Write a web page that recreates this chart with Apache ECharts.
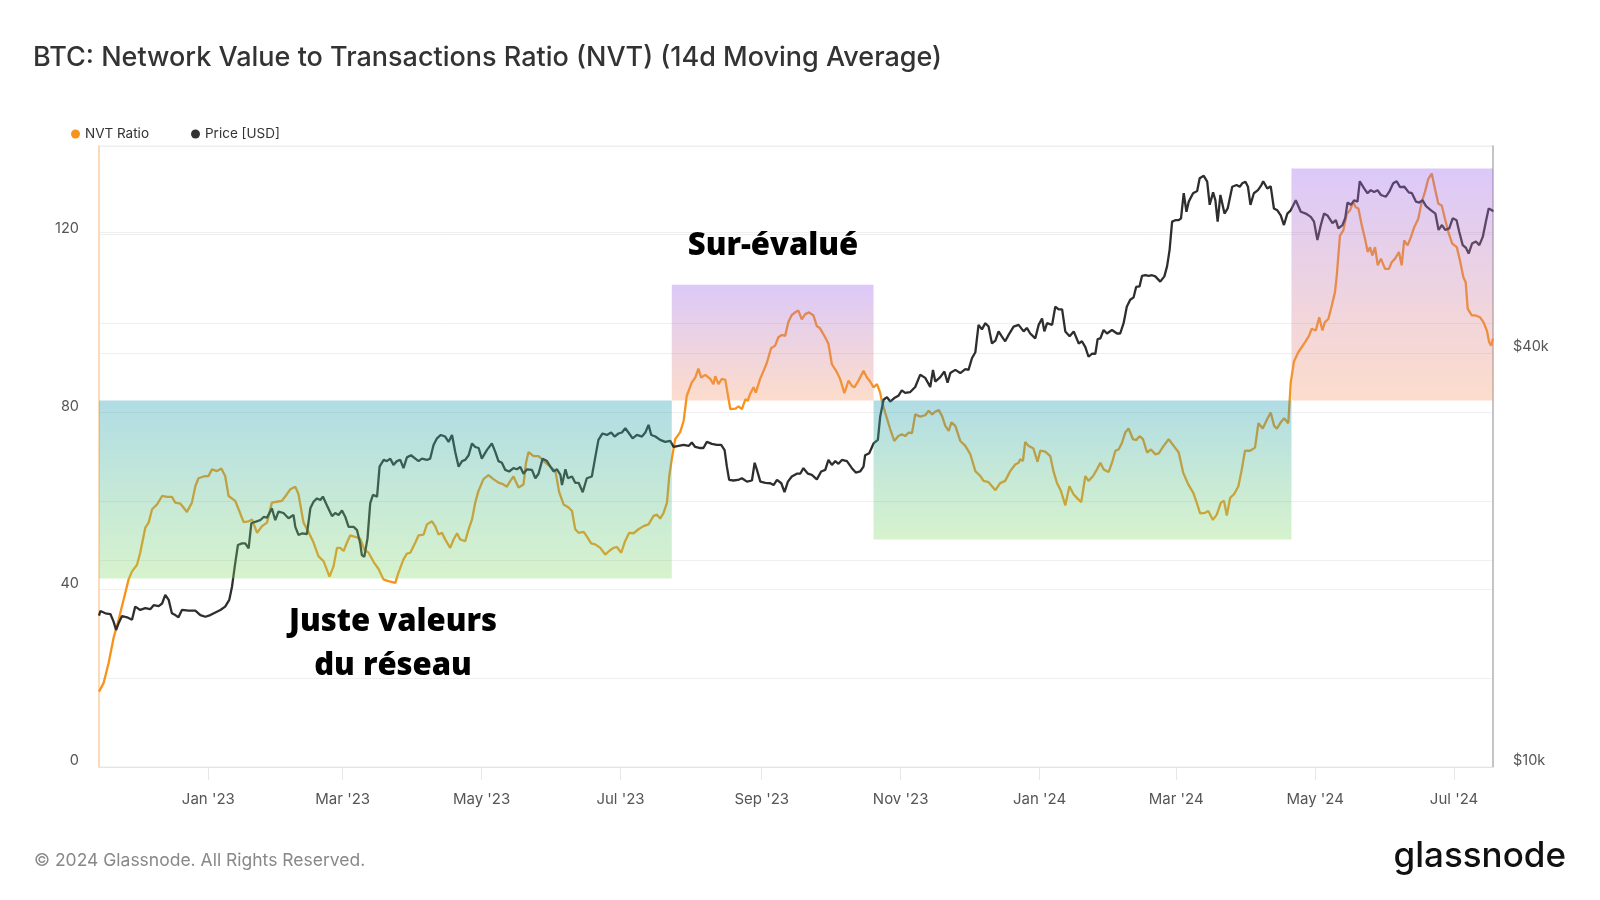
<!DOCTYPE html>
<html>
<head>
<meta charset="utf-8">
<script src="https://cdn.jsdelivr.net/npm/echarts@6/dist/echarts.min.js"></script>
<style>html,body{margin:0;padding:0;background:#fff}#c{width:1600px;height:900px}</style>
</head>
<body>
<div id="c"></div>
<script>
// ---- DATA (day = days since 2022-11-14) ----
const START_DATE = [2022, 10, 14];
const nvtPoints = [[0,17.0],[2.0,18.9],[4.2,23.4],[6.4,29.1],[8.6,33.2],[10.8,37.7],[13.0,42.3],[14.5,44.1],[16.7,45.6],[18.1,48.3],[20.3,53.9],[21.8,55.1],[23.3,58.1],[25.5,59.2],[27.7,61.1],[29.9,60.9],[32.0,60.9],[33.5,59.6],[35.7,59.4],[37.1,58.5],[38.6,57.5],[40.8,59.6],[42.3,63.3],[43.7,65.1],[45.9,65.5],[48.1,65.6],[49.6,67.1],[51.8,66.7],[53.7,67.3],[55.4,65.6],[56.9,61.1],[59.8,60.0],[61.3,58.1],[63.5,55.2],[65.7,55.4],[67.2,55.8],[69.4,52.8],[71.6,54.3],[73.8,55.1],[75.9,59.6],[78.1,59.8],[80.3,60.0],[82.5,61.5],[84.0,62.6],[86.2,63.2],[87.6,61.5],[89.8,55.1],[92.0,53.0],[94.2,50.6],[96.4,47.5],[98.6,46.4],[101.2,42.9],[103.0,45.3],[104.5,49.4],[105.9,49.4],[107.4,48.7],[108.9,50.6],[110.3,52.2],[112.5,51.9],[114.7,51.5],[116.5,49.0],[118.4,48.3],[120.6,46.2],[122.7,44.7],[124.9,42.3],[127.1,41.9],[130.1,41.5],[131.5,43.8],[133.7,46.8],[135.2,48.1],[136.7,48.3],[138.9,50.6],[140.3,52.2],[142.5,52.4],[144.0,54.7],[146.2,55.4],[147.6,54.3],[149.1,52.4],[150.6,52.8],[152.0,51.3],[154.2,49.4],[155.7,51.3],[157.2,52.7],[158.6,51.3],[160.8,50.9],[162.3,53.6],[163.8,55.8],[165.2,59.6],[166.6,62.2],[168.8,64.9],[171.0,65.8],[173.2,64.9],[175.4,64.1],[177.6,63.7],[179.1,63.2],[180.6,64.5],[182.0,65.5],[184.2,63.0],[186.4,63.7],[187.5,68.6],[188.6,71.0],[190.8,70.1],[193.0,70.1],[194.5,69.4],[196.0,68.6],[198.2,67.7],[200.4,66.7],[202.1,61.9],[204.0,59.2],[206.2,58.5],[207.7,57.7],[209.1,53.6],[210.6,52.8],[212.8,53.0],[214.2,52.0],[216.1,50.4],[217.9,50.2],[220.1,49.4],[222.3,47.9],[224.0,48.7],[225.9,49.4],[227.4,49.6],[229.3,48.3],[231.0,50.9],[232.8,52.8],[234.7,52.7],[236.9,53.6],[239.1,54.3],[241.3,54.7],[243.5,56.6],[245.0,56.9],[246.4,56.0],[247.9,57.3],[249.4,59.6],[250.4,65.6],[251.6,69.7],[253.0,73.9],[255.2,75.5],[256.7,78.0],[258.1,83.7],[260.3,86.7],[261.8,87.8],[263.2,89.8],[264.4,87.8],[266.2,88.4],[268.4,87.5],[269.8,86.3],[270.6,88.1],[272.0,86.3],[273.5,87.5],[275.0,87.3],[275.7,85.2],[277.2,80.7],[279.4,80.8],[280.8,81.3],[282.3,80.7],[283.8,82.9],[284.9,82.6],[285.9,84.1],[287.4,85.6],[288.4,84.4],[290.3,87.5],[291.8,89.3],[293.3,91.2],[295.1,94.4],[296.9,95.0],[298.3,96.9],[299.8,97.4],[301.3,97.2],[302.7,100.3],[304.2,101.9],[305.7,102.5],[307.1,102.9],[308.6,100.9],[310.1,102.1],[311.8,102.5],[313.7,101.8],[315.2,99.4],[316.6,98.9],[318.5,97.2],[320.3,95.4],[321.8,90.8],[324.0,89.0],[325.4,87.5],[327.3,84.3],[329.1,87.1],[330.6,85.9],[331.7,85.6],[333.5,87.1],[335.7,89.3],[337.2,87.8],[338.6,86.9],[340.1,85.6],[341.6,86.3],[343.0,84.4],[343.7,82.6],[345.2,79.9],[347.4,76.2],[349.2,73.5],[351.0,74.6],[352.5,75.0],[354.0,74.6],[355.5,75.4],[357.0,75.3],[358.4,79.5],[360.6,79.0],[362.8,79.3],[364.3,80.3],[365.8,79.5],[367.2,80.1],[368.7,80.5],[370.2,79.1],[371.6,76.9],[373.1,75.8],[374.3,77.7],[376.0,76.9],[378.2,73.5],[380.4,72.4],[382.6,70.5],[384.8,66.7],[387.0,65.6],[388.4,64.5],[390.6,64.2],[392.1,63.3],[393.6,62.4],[395.7,64.0],[397.9,64.5],[400.1,66.7],[402.3,68.2],[403.8,68.6],[404.5,69.4],[405.7,69.0],[406.7,73.3],[408.1,72.4],[410.3,71.8],[412.1,68.8],[413.3,71.3],[415.5,71.1],[417.7,70.1],[419.1,66.7],[420.6,64.1],[422.4,62.2],[424.3,59.0],[426.1,63.3],[427.9,61.5],[429.7,60.5],[431.3,59.7],[433.1,65.6],[434.5,64.5],[436.5,65.6],[438.2,67.1],[439.7,68.6],[441.1,67.1],[443.3,66.5],[444.8,68.6],[446.3,71.3],[447.7,71.6],[449.2,73.1],[450.6,75.4],[452.1,76.3],[454.0,73.9],[455.5,73.7],[456.9,74.6],[458.4,73.9],[460.2,70.9],[461.9,71.6],[463.8,70.5],[465.3,70.7],[467.5,72.4],[469.7,73.9],[471.9,72.4],[474.1,70.9],[476.1,66.3],[478.3,63.7],[480.5,61.8],[482.0,59.6],[483.5,57.2],[485.7,57.3],[487.1,57.7],[489.1,55.7],[490.8,56.9],[492.6,59.6],[494.0,60.0],[495.2,56.7],[496.7,60.7],[498.4,61.5],[500.3,63.3],[501.8,67.1],[503.2,71.3],[505.4,71.3],[507.6,72.0],[509.1,77.5],[511.0,76.3],[512.8,78.3],[514.5,79.9],[516.0,76.9],[517.2,76.3],[518.9,77.7],[520.4,78.6],[522.2,77.5],[523.3,86.7],[524.7,91.4],[526.6,93.5],[527.4,93.9],[529.6,95.8],[531.3,97.2],[532.5,98.8],[534.3,98.4],[535.8,101.4],[537.2,98.4],[538.3,100.3],[539.8,101.0],[541.3,104.0],[542.7,107.0],[543.5,110.8],[544.9,119.8],[546.4,121.0],[547.9,124.7],[549.3,125.5],[550.8,127.4],[551.8,126.2],[553.0,125.9],[554.5,122.1],[555.9,119.1],[557.1,116.1],[558.1,117.2],[559.1,115.3],[560.3,117.2],[561.5,113.1],[562.9,114.6],[564.7,112.3],[566.4,112.3],[567.6,113.8],[569.1,114.6],[570.8,116.1],[572.0,113.1],[573.1,118.7],[574.6,117.6],[576.1,119.5],[577.5,121.7],[579.3,123.6],[580.8,127.4],[582.2,129.6],[583.7,132.6],[585.2,133.8],[586.6,130.4],[588.1,127.0],[589.6,126.6],[591.0,123.6],[592.5,120.6],[594.2,118.0],[596.2,117.2],[597.6,114.2],[599.1,110.4],[600.1,109.3],[601.0,103.3],[602.8,101.8],[604.5,101.8],[606.4,101.4],[607.9,100.3],[609.4,98.4],[610.4,95.8],[611.3,95.0],[612.1,96.6]];
// price in thousands of USD
const pricePoints = [[0,16.6],[0.6,16.86],[2.8,16.73],[5.0,16.69],[6.4,16.27],[7.5,15.82],[8.6,16.18],[10.1,16.58],[12.3,16.51],[14.5,16.37],[15.9,17.11],[18.1,16.92],[20.3,17.02],[22.5,16.96],[24.0,17.19],[26.2,17.14],[27.7,17.29],[29.1,17.79],[30.6,17.5],[32.0,16.73],[33.5,16.63],[34.9,16.51],[36.4,16.92],[39.3,16.88],[42.3,16.88],[44.5,16.63],[46.7,16.54],[48.9,16.63],[51.1,16.78],[53.3,16.92],[55.4,17.11],[57.2,17.5],[58.4,18.29],[59.8,19.78],[61.0,21.03],[62.8,21.14],[64.2,21.14],[65.7,20.8],[66.9,22.62],[68.6,22.73],[70.8,22.85],[72.3,23.1],[73.8,23.05],[75.9,23.78],[77.4,22.85],[78.8,23.52],[81.0,23.41],[83.2,23.0],[85.4,23.25],[86.2,22.35],[87.6,21.75],[89.1,21.86],[91.3,21.82],[92.8,23.78],[94.2,24.31],[95.7,24.58],[97.2,24.45],[98.3,24.73],[100.1,24.0],[102.3,23.17],[103.7,23.4],[105.2,23.25],[106.7,23.6],[108.1,23.12],[109.6,22.35],[111.8,22.35],[113.3,22.1],[114.7,21.14],[115.4,20.34],[116.5,20.22],[117.9,21.5],[119.1,24.2],[120.3,24.87],[122.1,24.73],[123.2,27.34],[125.0,27.96],[126.4,27.85],[127.9,28.08],[129.3,27.5],[130.8,27.85],[132.3,27.96],[133.7,27.2],[135.2,28.2],[137.0,28.4],[138.9,28.08],[140.3,27.85],[141.8,28.08],[144.0,27.96],[145.4,28.08],[146.9,29.4],[148.4,30.06],[150.1,30.4],[152.0,30.24],[153.5,29.7],[155.0,30.4],[156.4,28.73],[157.9,27.34],[159.4,27.85],[160.8,27.96],[162.3,28.4],[163.8,29.55],[165.2,29.2],[166.7,29.1],[168.1,28.08],[170.3,28.9],[172.5,29.55],[174.0,28.73],[175.4,27.85],[176.9,27.7],[178.4,27.04],[180.1,26.9],[182.0,27.2],[183.5,27.1],[185.0,27.3],[186.4,26.7],[187.9,27.1],[190.1,27.04],[191.6,26.3],[193.0,26.7],[194.8,28.08],[196.7,27.85],[198.2,27.34],[199.6,26.9],[201.1,27.1],[202.6,26.6],[203.3,25.7],[204.8,27.1],[205.9,26.3],[207.7,26.45],[209.1,25.9],[210.6,25.9],[212.4,25.1],[214.2,26.3],[216.4,26.45],[217.9,28.2],[219.3,29.9],[221.1,30.55],[223.0,30.4],[224.9,30.65],[226.4,30.24],[228.1,30.55],[229.6,30.65],[231.1,31.09],[232.8,30.55],[234.3,30.06],[236.2,30.4],[238.4,30.24],[239.9,30.65],[241.3,31.44],[242.5,30.4],[244.3,30.24],[246.4,29.9],[248.6,29.7],[250.8,29.8],[252.3,29.2],[254.5,29.3],[256.7,29.4],[258.9,29.3],[260.3,29.64],[261.8,29.2],[264.0,29.1],[265.4,29.1],[266.9,29.7],[269.1,29.5],[271.3,29.4],[273.2,29.4],[274.7,28.9],[275.7,27.34],[276.7,26.15],[278.6,26.1],[280.6,26.15],[282.3,26.3],[284.5,26.0],[286.7,26.1],[287.9,27.7],[288.9,27.04],[290.4,26.0],[292.6,25.9],[294.8,25.86],[296.2,25.7],[297.7,26.15],[299.6,25.86],[301.0,25.1],[302.5,26.0],[304.2,26.45],[306.4,26.7],[307.9,26.7],[309.3,27.2],[311.3,26.7],[313.0,26.6],[315.2,26.2],[317.1,26.9],[318.9,27.04],[320.3,27.96],[321.8,27.5],[323.3,27.85],[324.7,27.6],[326.2,27.96],[328.4,27.85],[330.6,27.2],[332.3,26.8],[334.2,26.9],[335.7,27.34],[336.4,28.4],[338.2,28.6],[340.1,29.55],[342.0,29.9],[343.0,32.3],[344.5,34.2],[346.0,34.5],[347.4,34.0],[349.2,34.4],[351.0,34.66],[352.5,35.3],[354.0,35.0],[356.2,35.1],[358.4,35.7],[360.6,37.2],[362.8,36.8],[365.0,35.7],[366.2,37.8],[367.2,36.35],[369.4,36.9],[371.2,37.6],[372.6,36.2],[373.8,37.4],[376.0,37.8],[378.2,37.4],[380.4,37.9],[381.8,37.8],[383.3,39.3],[384.8,40.1],[386.2,43.95],[387.7,43.3],[389.2,44.2],[390.6,43.7],[392.1,41.3],[393.6,41.7],[395.0,43.0],[396.4,42.3],[397.9,41.6],[399.4,42.5],[401.6,43.7],[403.8,43.95],[406.0,43.0],[407.4,43.5],[408.9,42.7],[411.1,42.0],[412.6,43.95],[414.1,44.9],[415.1,43.0],[416.3,44.2],[418.5,43.95],[419.9,46.7],[421.4,46.3],[422.9,46.3],[424.3,43.0],[426.2,42.3],[428.0,43.0],[430.2,41.3],[431.6,41.6],[433.1,40.8],[434.5,39.5],[436.0,39.9],[437.5,39.9],[438.5,41.9],[439.7,42.0],[441.1,43.2],[442.6,42.7],[444.8,43.2],[447.0,42.7],[448.4,42.7],[449.9,44.2],[451.3,46.7],[452.8,47.8],[454.3,48.2],[455.4,49.9],[456.9,50.0],[458.0,51.8],[459.4,51.9],[460.9,51.8],[462.4,51.9],[463.8,51.7],[466.0,50.8],[467.8,51.7],[469.0,53.5],[470.1,56.5],[471.2,62.1],[472.6,62.4],[474.1,62.4],[475.1,62.8],[476.3,68.3],[477.5,64.2],[478.5,66.4],[480.4,68.3],[482.2,68.8],[483.3,71.8],[485.1,72.4],[486.6,71.0],[487.7,65.7],[489.2,68.5],[490.2,66.7],[491.2,62.1],[492.4,67.9],[494.2,63.8],[495.6,64.9],[497.6,69.8],[499.5,70.2],[500.9,69.8],[502.0,70.6],[503.4,71.0],[504.5,69.8],[505.6,65.7],[507.1,68.3],[508.9,69.0],[510.4,70.2],[511.2,71.1],[513.0,69.4],[514.5,69.9],[515.9,64.9],[517.4,64.5],[518.9,63.4],[520.3,61.4],[521.8,63.8],[523.3,64.5],[525.5,66.7],[527.7,64.2],[529.9,63.8],[532.1,63.1],[533.5,62.1],[535.0,58.4],[536.5,61.4],[537.9,63.8],[539.4,63.4],[541.6,61.8],[543.1,62.4],[544.2,60.7],[546.0,61.4],[547.2,62.8],[548.2,66.2],[549.7,65.7],[551.1,66.7],[552.6,66.4],[553.6,71.1],[555.5,69.4],[557.0,68.3],[558.4,69.0],[559.9,68.6],[561.4,69.0],[562.9,67.9],[565.1,67.5],[566.5,68.6],[568.3,70.6],[569.8,71.1],[571.3,69.7],[573.2,69.8],[575.1,68.5],[576.5,68.3],[578.3,66.4],[579.7,66.2],[581.2,66.7],[582.7,65.4],[584.9,64.5],[586.8,63.8],[588.2,60.4],[589.7,61.4],[591.1,60.4],[592.9,60.7],[594.4,62.8],[596.1,62.4],[597.3,60.0],[598.8,57.4],[600.2,56.9],[601.4,55.8],[602.9,57.7],[604.6,58.1],[606.1,57.4],[607.6,59.0],[609.1,62.4],[610.2,64.9],[611.7,64.5],[612.1,64.2]];
const xRangeDays = [0, 612.1];
const tickDates = ['2023-01-01','2023-03-01','2023-05-01','2023-07-01','2023-09-01','2023-11-01','2024-01-01','2024-03-01','2024-05-01','2024-07-01'];
const tickLabels = ["Jan '23","Mar '23","May '23","Jul '23","Sep '23","Nov '23","Jan '24","Mar '24","May '24","Jul '24"];
const nvtGridValues = [0, 20, 40, 60, 80, 100, 120, 140];
const nvtLabelValues = [0, 40, 80, 120];
const priceGridValues = [20, 40, 60];
const priceLabelValues = [10, 40];
// zones: [startDay, endDay, lowNVT, highNVT, kind]
const zones = [[-3.4, 251.5, 42.5, 82.6, 'fair'], [251.5, 340.1, 82.6, 108.7, 'over'], [340.1, 523.6, 51.3, 82.6, 'fair'], [523.6, 612.1, 82.6, 134.9, 'over']];

// ---- helpers ----
const START = Date.UTC(START_DATE[0], START_DATE[1], START_DATE[2]);
const DAY = 86400000;
const tickDays = tickDates.map(s => { const p = s.split('-').map(Number); return (Date.UTC(p[0], p[1] - 1, p[2]) - START) / DAY; });

const zoneStyle = {
  fair: { type: 'linear', x: 0, y: 0, x2: 0, y2: 1, colorStops: [{offset: 0, color: 'rgba(40,160,182,0.37)'}, {offset: 1, color: 'rgba(132,216,104,0.33)'}] },
  over: { type: 'linear', x: 0, y: 0, x2: 0, y2: 1, colorStops: [{offset: 0, color: 'rgba(156,104,238,0.36)'}, {offset: 1, color: 'rgba(246,150,100,0.33)'}] }
};

const FONT = 'Inter, "Noto Sans", sans-serif';
const ANNOT = '"Open Sans", "Noto Sans", sans-serif';
// y-axis labels sit just above their grid line: second (blank) line lifts the first
const liftLabel = s => s + '\n ';
const chart = echarts.init(document.getElementById('c'), null, {renderer: 'canvas'});
chart.setOption({
  backgroundColor: '#fff',
  animation: false,
  title: {
    text: 'BTC: Network Value to Transactions Ratio (NVT) (14d Moving Average)',
    left: 33, top: 44, padding: 0,
    textStyle: {fontFamily: FONT, fontSize: 27, fontWeight: 500, color: '#333'}
  },
  legend: {
    data: ['NVT Ratio', 'Price [USD]'],
    left: 71, top: 127, padding: 0,
    icon: 'circle', itemWidth: 9, itemHeight: 9, itemGap: 42,
    textStyle: {fontFamily: FONT, fontSize: 13.5, color: '#333'}
  },
  grid: {left: 99, right: 107, top: 146, bottom: 133, show: true, borderColor: '#ececec', borderWidth: 1, containLabel: false},
  xAxis: {
    type: 'value', min: xRangeDays[0], max: xRangeDays[1],
    axisLine: {show: true, onZero: false, lineStyle: {color: '#e4e4e4', width: 1}},
    axisTick: {show: true, length: 13, lineStyle: {color: '#e8e8e8'}, customValues: tickDays},
    axisLabel: {
      customValues: tickDays, margin: 25, fontFamily: FONT, fontSize: 15, color: '#555',
      formatter: v => { const i = tickDays.findIndex(t => Math.abs(t - v) < 0.5); return i >= 0 ? tickLabels[i] : ''; }
    },
    splitLine: {show: false}
  },
  yAxis: [
    {
      type: 'value', position: 'left', min: nvtGridValues[0], max: nvtGridValues[nvtGridValues.length - 1], interval: 20,
      axisLine: {show: true, lineStyle: {color: '#fbd2a4', width: 1.5}},
      axisTick: {show: false},
      axisLabel: {
        margin: 20, fontFamily: FONT, fontSize: 14.5, lineHeight: 12, color: '#555', verticalAlign: 'middle',
        formatter: v => nvtLabelValues.indexOf(v) >= 0 ? liftLabel(String(v)) : ''
      },
      splitLine: {show: true, lineStyle: {color: '#efefef', width: 1}}
    },
    {
      type: 'log', logBase: 10, position: 'right', min: 10, max: 80,
      axisLine: {show: true, lineStyle: {color: '#b5b5b5', width: 1.5}},
      axisTick: {show: false, customValues: priceGridValues},
      axisLabel: {
        customValues: priceLabelValues, margin: 20, fontFamily: FONT, fontSize: 14.5, lineHeight: 12, color: '#555', verticalAlign: 'middle',
        formatter: v => liftLabel('$' + Math.round(v) + 'k')
      },
      splitLine: {show: true, lineStyle: {color: '#efefef', width: 1}}
    }
  ],
  series: [
    {
      name: 'NVT Ratio', type: 'line', yAxisIndex: 0, showSymbol: false, symbol: 'none',
      data: nvtPoints,
      lineStyle: {color: '#f7931a', width: 2.3}, itemStyle: {color: '#f7931a'},
      z: 2, clip: false,
      markArea: {
        silent: true, z: 5,
        data: zones.map(z => [
          {xAxis: z[0], yAxis: z[3], itemStyle: {color: zoneStyle[z[4]], borderWidth: 0}},
          {xAxis: z[1], yAxis: z[2]}
        ])
      }
    },
    {
      name: 'Price [USD]', type: 'line', yAxisIndex: 1, showSymbol: false, symbol: 'none',
      data: pricePoints,
      lineStyle: {color: '#2e2e2e', width: 2.3}, itemStyle: {color: '#333'},
      z: 3
    }
  ],
  graphic: [
    {type: 'text', left: 34, top: 852, style: {text: '© 2024 Glassnode. All Rights Reserved.', fontFamily: FONT, fontSize: 17.5, fill: '#888'}},
    {type: 'text', right: 34, top: 839, style: {text: 'glassnode', fontFamily: FONT, fontSize: 35, fontWeight: 500, fill: '#111'}},
    {type: 'text', x: 773, y: 246, z: 20, style: {text: 'Sur-évalué', fontFamily: ANNOT, fontSize: 31, fontWeight: 800, fill: '#000', align: 'center', verticalAlign: 'middle'}},
    {type: 'text', x: 393, y: 622, z: 20, style: {text: 'Juste valeurs', fontFamily: ANNOT, fontSize: 31, fontWeight: 800, fill: '#000', align: 'center', verticalAlign: 'middle'}},
    {type: 'text', x: 393, y: 666, z: 20, style: {text: 'du réseau', fontFamily: ANNOT, fontSize: 31, fontWeight: 800, fill: '#000', align: 'center', verticalAlign: 'middle'}}
  ]
});
</script>
</body>
</html>
